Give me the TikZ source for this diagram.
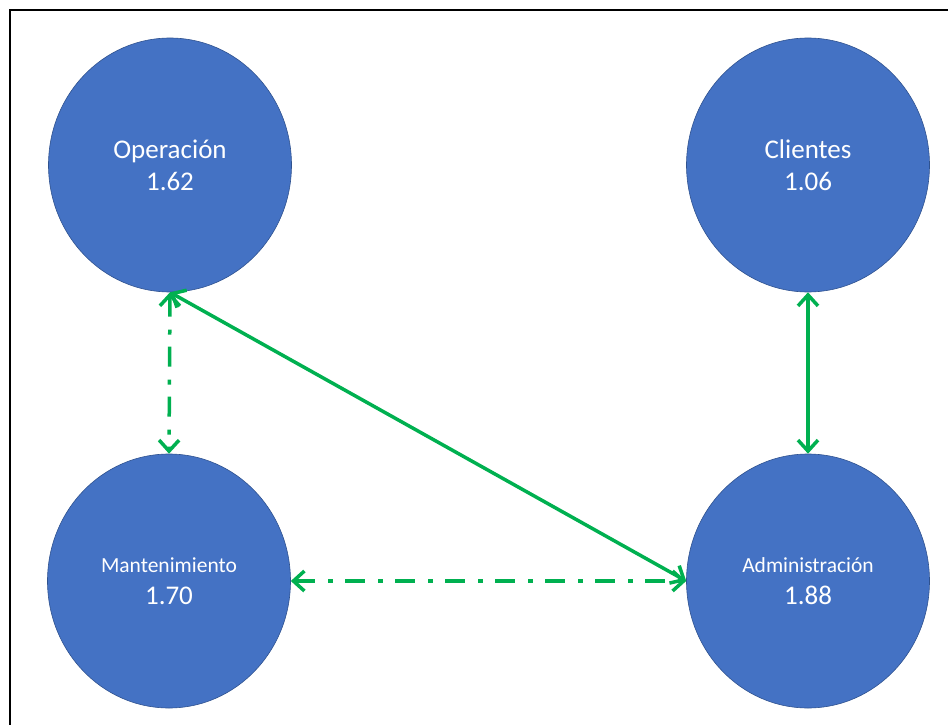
\documentclass[tikz,border=0pt]{standalone}
\usepackage{fontspec}
\setmainfont{Carlito}
\usetikzlibrary{arrows.meta, shapes.geometric}

\definecolor{areablue}{HTML}{4472C4}
\definecolor{areaedge}{HTML}{2F528F}
\definecolor{linkgreen}{HTML}{00B050}

\newcommand{\longname}[1]{{\fontsize{21.5}{26}\selectfont #1}}

\begin{document}
\begin{tikzpicture}[
    x=1pt, y=-1pt,
    >={Straight Barb[length=11pt, width=20pt]}, % Open arrow tips
    area/.style={ellipse, fill=areablue, draw=areaedge, line width=0.6pt,
     minimum width=243pt, minimum height=254pt, inner sep=0pt,
     text=white, align=center,
     font=\fontsize{27}{32}\selectfont}, % Style for the circles
    link/.style={<->, linkgreen, line width=3.5pt}, % Style for connectors
    dashdot/.style={dash pattern=on 20pt off 13pt on 5pt off 12pt}
]

    % Frame
    \useasboundingbox (0,0) rectangle (948,725);
    \draw[line width=2.5pt] (10,725) -- (10,10) -- (948,10);

    % Circles
    \node[area] (op) at (170,165) {Operación\\1.62};
    \node[area] (cli) at (808,165) {Clientes\\1.06};
    \node[area] (mant) at (169,581) {\longname{Mantenimiento}\\1.70};
    \node[area] (adm) at (808,581) {\longname{Administración}\\1.88};

    % Connectors
    \draw[link, dashdot] (op.south) -- (mant.north);
    \draw[link] (op.south) -- (adm.west);
    \draw[link] (cli.south) -- (adm.north);
    \draw[link, dashdot] (mant.east) -- (adm.west);

\end{tikzpicture}
\end{document}
